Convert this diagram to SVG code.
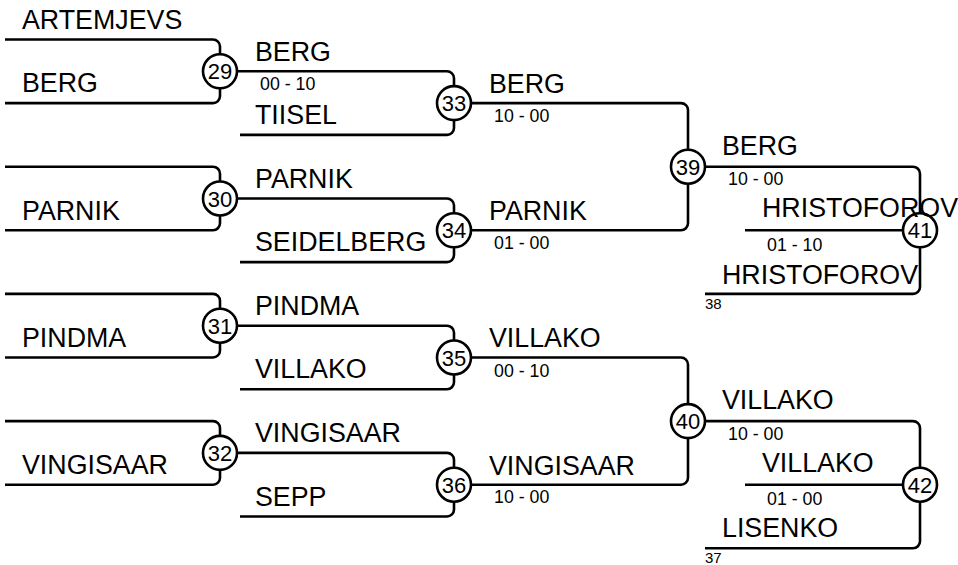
<svg xmlns="http://www.w3.org/2000/svg" width="958" height="565" viewBox="0 0 958 565">
<style>
.c{fill:none;stroke:#000;stroke-width:2.6}
.n circle{fill:#fff;stroke:#000;stroke-width:2.6}
.n text{font-family:"Liberation Sans",Arial,sans-serif;font-size:22px;text-anchor:middle;fill:#000}
.nm{font-family:"Liberation Sans",Arial,sans-serif;font-size:26.8px;fill:#000}
.sc{font-family:"Liberation Sans",Arial,sans-serif;font-size:17.8px;fill:#000}
.sm{font-family:"Liberation Sans",Arial,sans-serif;font-size:15px;fill:#000}
</style>
<rect width="958" height="565" fill="#fff"/>
<g id="connectors">
<path class="c" d="M5 39.5H213A7 7 0 0 1 220 46.5V54.3M220 88.3V96.1A7 7 0 0 1 213 103.1H5"/>
<path class="c" d="M5 166.7H213A7 7 0 0 1 220 173.7V181.5M220 215.5V223.3A7 7 0 0 1 213 230.3H5"/>
<path class="c" d="M5 293.9H213A7 7 0 0 1 220 300.9V308.7M220 342.7V350.5A7 7 0 0 1 213 357.5H5"/>
<path class="c" d="M5 421.1H213A7 7 0 0 1 220 428.1V435.9M220 469.9V477.7A7 7 0 0 1 213 484.7H5"/>
<path class="c" d="M237 71.3H447A7 7 0 0 1 454 78.3V86.1M454 120.1V127.9A7 7 0 0 1 447 134.9H240"/>
<path class="c" d="M237 198.5H447A7 7 0 0 1 454 205.5V213.3M454 247.3V255.1A7 7 0 0 1 447 262.1H240"/>
<path class="c" d="M237 325.7H447A7 7 0 0 1 454 332.7V340.5M454 374.5V382.3A7 7 0 0 1 447 389.3H240"/>
<path class="c" d="M237 452.9H447A7 7 0 0 1 454 459.9V467.7M454 501.7V509.5A7 7 0 0 1 447 516.5H240"/>
<path class="c" d="M471 103.1H681A7 7 0 0 1 688 110.1V149.7M688 183.7V223.3A7 7 0 0 1 681 230.3H471"/>
<path class="c" d="M471 357.5H681A7 7 0 0 1 688 364.5V404.1M688 438.1V477.7A7 7 0 0 1 681 484.7H471"/>
<path class="c" d="M705 166.7H913A7 7 0 0 1 920 173.7V213.3M745 230.3H903M920 247.3V286.9A7 7 0 0 1 913 293.9H705"/>
<path class="c" d="M705 421.1H913A7 7 0 0 1 920 428.1V467.7M745 484.7H903M920 501.7V541.3A7 7 0 0 1 913 548.3H705"/>
</g>
<g id="n29" class="n"><circle cx="220" cy="71.3" r="17"/><text x="220" y="79.3">29</text></g>
<g id="n30" class="n"><circle cx="220" cy="198.5" r="17"/><text x="220" y="206.5">30</text></g>
<g id="n31" class="n"><circle cx="220" cy="325.7" r="17"/><text x="220" y="333.7">31</text></g>
<g id="n32" class="n"><circle cx="220" cy="452.9" r="17"/><text x="220" y="460.9">32</text></g>
<g id="n33" class="n"><circle cx="454" cy="103.1" r="17"/><text x="454" y="111.1">33</text></g>
<g id="n34" class="n"><circle cx="454" cy="230.3" r="17"/><text x="454" y="238.3">34</text></g>
<g id="n35" class="n"><circle cx="454" cy="357.5" r="17"/><text x="454" y="365.5">35</text></g>
<g id="n36" class="n"><circle cx="454" cy="484.7" r="17"/><text x="454" y="492.7">36</text></g>
<g id="n39" class="n"><circle cx="688" cy="166.7" r="17"/><text x="688" y="174.7">39</text></g>
<g id="n40" class="n"><circle cx="688" cy="421.1" r="17"/><text x="688" y="429.1">40</text></g>
<g id="n41" class="n"><circle cx="920" cy="230.3" r="17"/><text x="920" y="238.3">41</text></g>
<g id="n42" class="n"><circle cx="920" cy="484.7" r="17"/><text x="920" y="492.7">42</text></g>
<g id="labels">
<text class="nm" x="22" y="28.5">ARTEMJEVS</text>
<text class="nm" x="22" y="92">BERG</text>
<text class="nm" x="22" y="220">PARNIK</text>
<text class="nm" x="22" y="347">PINDMA</text>
<text class="nm" x="22" y="474">VINGISAAR</text>
<text class="nm" x="255" y="61">BERG</text>
<text class="sc" x="260" y="90">00 - 10</text>
<text class="nm" x="255" y="124">TIISEL</text>
<text class="nm" x="255" y="188">PARNIK</text>
<text class="nm" x="255" y="251">SEIDELBERG</text>
<text class="nm" x="255" y="315">PINDMA</text>
<text class="nm" x="255" y="378">VILLAKO</text>
<text class="nm" x="255" y="442">VINGISAAR</text>
<text class="nm" x="255" y="506">SEPP</text>
<text class="nm" x="489" y="93">BERG</text>
<text class="sc" x="494" y="122">10 - 00</text>
<text class="nm" x="489" y="220">PARNIK</text>
<text class="sc" x="494" y="249">01 - 00</text>
<text class="nm" x="489" y="347">VILLAKO</text>
<text class="sc" x="494" y="377">00 - 10</text>
<text class="nm" x="489" y="475">VINGISAAR</text>
<text class="sc" x="494" y="503">10 - 00</text>
<text class="nm" x="722" y="155">BERG</text>
<text class="sc" x="728" y="185">10 - 00</text>
<text class="nm" x="762" y="217">HRISTOFOROV</text>
<text class="sc" x="767" y="251">01 - 10</text>
<text class="nm" x="722" y="284">HRISTOFOROV</text>
<text class="sm" x="705" y="308.5">38</text>
<text class="nm" x="722" y="409">VILLAKO</text>
<text class="sc" x="728" y="440">10 - 00</text>
<text class="nm" x="762" y="472">VILLAKO</text>
<text class="sc" x="767" y="505">01 - 00</text>
<text class="nm" x="722" y="537">LISENKO</text>
<text class="sm" x="705" y="563">37</text>
</g>
</svg>
